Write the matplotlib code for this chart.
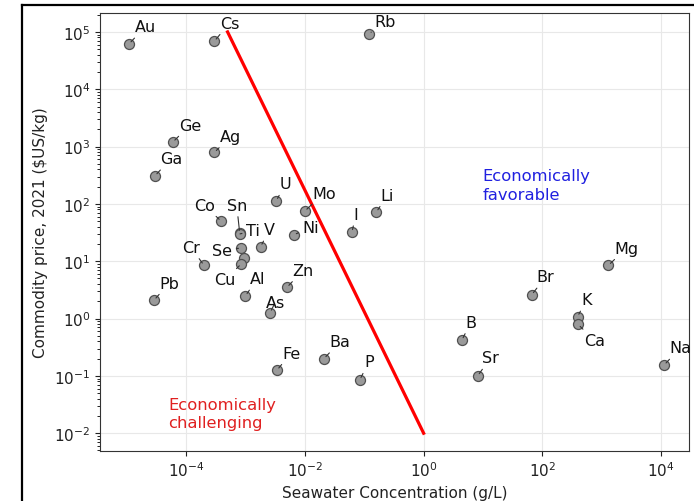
import numpy as np
import matplotlib
matplotlib.use("Agg")
import matplotlib.pyplot as plt
from matplotlib.lines import Line2D
from matplotlib.ticker import LogLocator, NullLocator, NullFormatter

# element symbols, seawater concentration (g/L), commodity price 2021 ($US/kg)
elements = ["Au", "Cs", "Rb", "Ge", "Ag", "Ga", "U", "Mo", "Li", "Co",
            "Sn", "Ti", "V", "Ni", "I", "Cr", "Se", "", "Cu", "Al",
            "Zn", "Pb", "As", "Fe", "Ba", "P", "B", "Sr", "Br", "K",
            "Ca", "Mg", "Na"]
concentration = [1.1e-5, 3.0e-4, 0.12, 6.0e-5, 3.0e-4, 3.0e-5, 3.3e-3, 1.0e-2, 0.16, 3.9e-4,
                 8.0e-4, 8.1e-4, 1.8e-3, 6.5e-3, 0.062, 2.0e-4, 8.5e-4, 9.3e-4, 8.5e-4, 1.0e-3,
                 5.0e-3, 2.9e-5, 2.6e-3, 3.4e-3, 0.021, 0.084, 4.4, 8.1, 66, 390,
                 400, 1290, 11200]
price = [6.2e4, 6.9e4, 9.2e4, 1200, 790, 310, 113, 75, 72, 50,
         31, 30, 18, 29, 32, 8.5, 17, 11.5, 9.0, 2.5,
         3.5, 2.1, 1.27, 0.126, 0.2, 0.085, 0.42, 0.1, 2.6, 1.08,
         0.79, 8.5, 0.155]
# label offsets in pixels (dx, dy) from the point
label_dx = [16, 15, 16, 17, 16, 16, 9, 19, 11, -17,
            -3, 13, 9, 17, 4, -13, -19, 0, -16, 12,
            16, 15, 5, 14, 16, 9, 9, 13, 14, 9,
            16, 18, 16]
label_dy = [17, 18, 13, 17, 16, 17, 17, 18, 17, 16,
            28, 3, 17, 7, 18, 18, -2, 0, -16, 17,
            17, 17, 10, 17, 17, 18, 18, 18, 18, 17,
            -16, 17, 17]

# boundary line
boundary_x = [5e-4, 1.0]
boundary_y = [1e5, 1e-2]

fig = plt.figure(figsize=(6.94, 5.02), dpi=100)
ax = fig.add_axes([0.144, 0.0996, 0.849, 0.8725])

ax.set_xscale("log")
ax.set_yscale("log")
ax.set_xlim(10 ** -5.45, 10 ** 4.47)
ax.set_ylim(10 ** -2.31, 10 ** 5.33)
ax.grid(True, which="major", color="#e8e8e8", lw=0.8)
ax.set_axisbelow(True)

ax.plot(boundary_x, boundary_y, color="red", lw=2.3, zorder=2)

ax.scatter(concentration, price, s=52, facecolor="#9a9a9a", edgecolor="#505050",
           linewidth=0.9, zorder=3)

for name, x, y, dx, dy in zip(elements, concentration, price, label_dx, label_dy):
    if not name:
        continue
    ax.annotate(name, xy=(x, y), xytext=(dx, dy), textcoords="offset pixels",
                ha="center", va="center", fontsize=11.5, color="#111111",
                arrowprops=dict(arrowstyle="-", color="#333333", lw=0.8,
                                shrinkA=1, shrinkB=2),
                zorder=4)

ax.text(10 ** 0.99, 10 ** 2.62, "Economically\nfavorable", color="#2020e0",
        fontsize=11.8, ha="left", va="top", linespacing=1.3)
ax.text(10 ** -4.3, 10 ** -1.36, "Economically\nchallenging", color="#e02020",
        fontsize=11.8, ha="left", va="top", linespacing=1.3)

ax.set_xlabel("Seawater Concentration (g/L)", fontsize=11, color="#222222")
ax.set_ylabel("Commodity price, 2021 (\\$US/kg)", fontsize=11, color="#222222")
ax.tick_params(labelsize=11, colors="#222222")
ax.set_xticks([1e-4, 1e-2, 1e0, 1e2, 1e4])
ax.xaxis.set_minor_locator(NullLocator())
ax.set_yticks([1e-2, 1e-1, 1e0, 1e1, 1e2, 1e3, 1e4, 1e5])
ax.yaxis.set_minor_locator(LogLocator(base=10, subs=np.arange(2, 10), numticks=30))
ax.yaxis.set_minor_formatter(NullFormatter())
for s in ax.spines.values():
    s.set_color("#333333")

# outer frame of the original figure
fig.add_artist(Line2D([22 / 694, 22 / 694], [0, 1 - 6 / 502], color="black", lw=1.6))
fig.add_artist(Line2D([22 / 694, 1], [1 - 6 / 502, 1 - 6 / 502], color="black", lw=1.6))

fig.savefig("out.png", dpi=100)
